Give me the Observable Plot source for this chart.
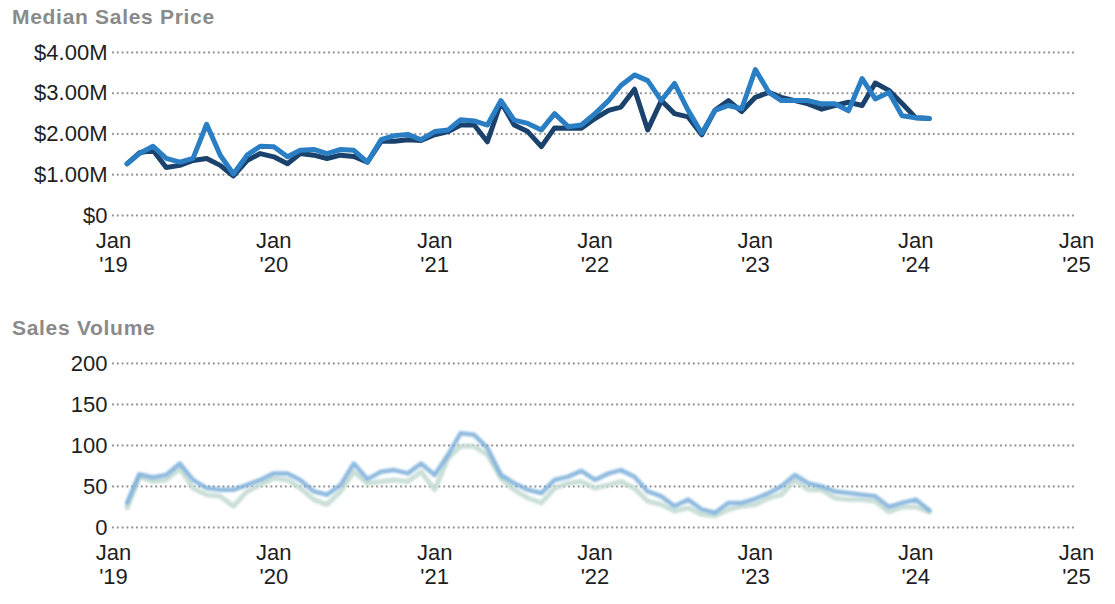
<!DOCTYPE html>
<html><head><meta charset="utf-8">
<script src="https://cdn.jsdelivr.net/npm/d3@7"></script>
<script src="https://cdn.jsdelivr.net/npm/@observablehq/plot@0.6"></script>
<style>
body{margin:0;background:#fff;width:1115px;height:604px;overflow:hidden;position:relative;font-family:"Liberation Sans",Arial,sans-serif;}
.title{position:absolute;left:12px;font-weight:bold;font-size:21px;letter-spacing:0.7px;color:#8a8a8a;line-height:normal;white-space:nowrap;}
#c1{position:absolute;left:0;top:0;}
#c2{position:absolute;left:0;top:300px;}
</style></head><body>
<div class="title" style="top:5px">Median Sales Price</div>
<div class="title" style="top:316px">Sales Volume</div>
<div id="c1"></div><div id="c2"></div>
<script>
const months = ["2019-02","2019-03","2019-04","2019-05","2019-06","2019-07","2019-08","2019-09","2019-10","2019-11","2019-12",
"2020-01","2020-02","2020-03","2020-04","2020-05","2020-06","2020-07","2020-08","2020-09","2020-10","2020-11","2020-12",
"2021-01","2021-02","2021-03","2021-04","2021-05","2021-06","2021-07","2021-08","2021-09","2021-10","2021-11","2021-12",
"2022-01","2022-02","2022-03","2022-04","2022-05","2022-06","2022-07","2022-08","2022-09","2022-10","2022-11","2022-12",
"2023-01","2023-02","2023-03","2023-04","2023-05","2023-06","2023-07","2023-08","2023-09","2023-10","2023-11","2023-12",
"2024-01","2024-02"];

// Median sales price, $M
const priceDark = [1.27,1.54,1.60,1.18,1.23,1.35,1.40,1.23,0.97,1.35,1.52,1.44,1.27,1.52,1.48,1.40,1.48,1.45,1.31,1.82,1.82,1.86,1.84,1.98,2.06,2.22,2.22,1.81,2.78,2.22,2.06,1.69,2.15,2.14,2.14,2.38,2.58,2.66,3.10,2.10,2.82,2.50,2.42,1.98,2.58,2.82,2.55,2.90,3.02,2.90,2.82,2.74,2.61,2.70,2.78,2.70,3.25,3.07,2.75,2.40,2.38];
const priceBlue = [1.27,1.52,1.70,1.40,1.31,1.40,2.24,1.48,1.02,1.48,1.70,1.69,1.44,1.60,1.62,1.52,1.62,1.60,1.31,1.86,1.96,1.99,1.86,2.06,2.10,2.35,2.32,2.22,2.82,2.34,2.26,2.10,2.50,2.18,2.22,2.50,2.82,3.19,3.45,3.31,2.82,3.24,2.58,2.02,2.58,2.70,2.62,3.58,3.02,2.82,2.82,2.82,2.74,2.74,2.57,3.36,2.86,3.02,2.45,2.40,2.38];

// Sales volume
const volBlue = [30,65,61,64,78,58,48,46,46,52,58,66,66,58,44,40,52,78,59,68,70,66,78,64,89,115,113,97,64,54,46,42,58,62,69,58,66,70,62,44,38,26,34,22,18,30,30,35,42,50,64,54,50,44,42,40,38,25,30,34,21];
const volPale = [24,62,56,58,72,48,40,38,26,44,52,60,58,48,34,28,44,68,54,56,58,56,68,46,85,99,99,89,60,46,36,30,48,54,56,48,52,56,48,32,28,20,24,16,14,22,26,28,36,40,58,46,46,36,34,34,32,19,25,25,19];

const priceTicks = [0,1,2,3,4];
const volTicks = [0,50,100,150,200];
const yearTicks = ["2019","2020","2021","2022","2023","2024","2025"];

const rows = months.map((m,i)=>({date:new Date(m+"-01"), dark:priceDark[i], blue:priceBlue[i], vb:volBlue[i], vp:volPale[i]}));
const yt = yearTicks.map(y=>new Date(y+"-01-01"));
const xDomain = [yt[0], yt[yt.length-1]];
const font = {fontSize:"22px", fontFamily:"'Liberation Sans', Arial, sans-serif", color:"#1e1e1e", background:"transparent", overflow:"visible"};
const grid = {stroke:"#9a9a9a", strokeWidth:2.3, strokeDasharray:"0,4.8", strokeLinecap:"round"};
const xAxes = [
  Plot.axisX(yt, {tickSize:0, tickPadding:17, tickFormat:()=>"Jan", label:null, fill:"#1e1e1e"}),
  Plot.axisX(yt, {tickSize:0, tickPadding:41, tickFormat:d=>"'"+String(d.getUTCFullYear()).slice(2), label:null, fill:"#1e1e1e"})
];

const c1 = Plot.plot({
  width:1115, height:290, marginLeft:113, marginRight:39, marginTop:52, marginBottom:75,
  style:font,
  x:{type:"utc", domain:xDomain, label:null},
  y:{domain:[0,4], label:null},
  marks:[
    Plot.ruleY(priceTicks, grid),
    Plot.axisY(priceTicks, {tickSize:0, tickPadding:6, label:null, fill:"#1e1e1e", tickFormat:d=>d===0?"$0":"$"+d.toFixed(2)+"M"}),
    ...xAxes,
    Plot.line(rows, {x:"date", y:"dark", stroke:"#1a426c", strokeWidth:5, strokeLinejoin:"round", strokeLinecap:"round"}),
    Plot.line(rows, {x:"date", y:"blue", stroke:"#2a7fc4", strokeWidth:5, strokeLinejoin:"round", strokeLinecap:"round"})
  ]
});
document.getElementById("c1").appendChild(c1);

const c2 = Plot.plot({
  width:1115, height:304, marginLeft:113, marginRight:39, marginTop:63, marginBottom:77,
  style:font,
  x:{type:"utc", domain:xDomain, label:null},
  y:{domain:[0,200], label:null},
  marks:[
    Plot.ruleY(volTicks, grid),
    Plot.axisY(volTicks, {tickSize:0, tickPadding:6, label:null, fill:"#1e1e1e"}),
    ...xAxes,
    Plot.line(rows, {x:"date", y:"vp", stroke:"#c4dbd3", strokeWidth:5, strokeLinejoin:"round", strokeLinecap:"round", strokeOpacity:0.9}),
    Plot.line(rows, {x:"date", y:"vb", stroke:"#7aaed9", strokeWidth:4.5, strokeLinejoin:"round", strokeLinecap:"round", strokeOpacity:0.85})
  ]
});
d3.select(c2).selectAll("g[aria-label='line']").style("filter","blur(1px)");
document.getElementById("c2").appendChild(c2);
</script>
</body></html>
